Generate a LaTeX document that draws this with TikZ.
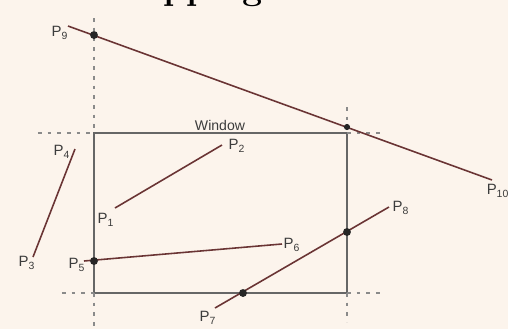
\documentclass[tikz,border=0pt]{standalone}
\usepackage{fontspec}
\setsansfont{Liberation Sans}
\definecolor{paper}{HTML}{FCF4EC}
\definecolor{segred}{HTML}{6A3434}
\definecolor{wingray}{HTML}{666666}
\definecolor{guidegray}{HTML}{8A8A8A}
\definecolor{lblgray}{HTML}{3C3C3C}
\begin{document}
\begin{tikzpicture}[
    x=0.2mm, y=-0.2mm,
    seg/.style={draw=segred, line width=0.9pt},
    win/.style={draw=wingray, line width=0.8pt},
    guide/.style={draw=guidegray, line width=0.6pt, dash pattern=on 2pt off 3.5pt},
    lbl/.style={font=\sffamily\fontsize{8.5}{9}\selectfont, text=lblgray, inner sep=0pt},
    dot/.style={circle, fill=black!85, inner sep=0pt, minimum size=4.5pt}
]
    \useasboundingbox[fill=paper] (0,0) rectangle (508,329);

    % heading, cut off by the page edge
    \node[font=\bfseries\fontsize{20.4}{24}\selectfont, anchor=base west, inner sep=0pt] (title) at (112,-1) {Clipping};

    % window
    \coordinate (wtl) at (94,133);
    \coordinate (wbr) at (347,293);
    \draw[win] (wtl) rectangle (wbr);
    \node[font=\sffamily\fontsize{8}{9}\selectfont, text=lblgray] (wname) at (220,125) {Window};

    % guide lines
    \coordinate (gtop) at (94,18);
    \coordinate (gbot) at (94,329);
    \coordinate (gleft) at (38,133);
    \coordinate (wbl) at (94,293);
    \coordinate (gleftb) at (62,293);
    \coordinate (wtr) at (347,133);
    \coordinate (grtop) at (347,107);
    \coordinate (grbot) at (347,322);
    \coordinate (grright) at (382,293);
    \coordinate (grrightt) at (385,133);
    \draw[guide] (gtop) -- (wtl);
    \draw[guide] (wbl) -- (gbot);
    \draw[guide] (gleft) -- (wtl);
    \draw[guide] (gleftb) -- (wbl);
    \draw[guide] (grtop) -- (wtr);
    \draw[guide] (wbr) -- (grbot);
    \draw[guide] (wbr) -- (grright);
    \draw[guide] (wtr) -- (grrightt);

    % line end points
    \coordinate (p1) at (115,208);
    \coordinate (p2) at (222,145);
    \coordinate (p3) at (33,257);
    \coordinate (p4) at (75,149);
    \coordinate (p5) at (84,261);
    \coordinate (p6) at (282,244);
    \coordinate (p7) at (215,308);
    \coordinate (p8) at (389,207);
    \coordinate (p9) at (68,26);
    \coordinate (p10) at (492,180);

    \draw[seg] (p1) -- (p2);
    \draw[seg] (p3) -- (p4);
    \draw[seg] (p5) -- (p6);
    \draw[seg] (p7) -- (p8);
    \draw[seg] (p9) -- (p10);

    % intersections with the window edges
    \node[dot] (x9) at (94,35) {};
    \node[dot, minimum size=3.5pt] (x10) at (347,127) {};
    \node[dot] (x5) at (94,261) {};
    \node[dot] (x7) at (243,293) {};
    \node[dot] (x8) at (347,232) {};

    % labels
    \node[lbl] (l1) at (106,220) {P\textsubscript{1}};
    \node[lbl] (l2) at (237,146) {P\textsubscript{2}};
    \node[lbl] (l3) at (27,263) {P\textsubscript{3}};
    \node[lbl] (l4) at (62,152) {P\textsubscript{4}};
    \node[lbl] (l5) at (77,265) {P\textsubscript{5}};
    \node[lbl] (l6) at (292,245) {P\textsubscript{6}};
    \node[lbl] (l7) at (208,318) {P\textsubscript{7}};
    \node[lbl] (l8) at (401,208) {P\textsubscript{8}};
    \node[lbl] (l9) at (60,33) {P\textsubscript{9}};
    \node[lbl] (l10) at (498,191) {P\textsubscript{10}};
\end{tikzpicture}
\end{document}
